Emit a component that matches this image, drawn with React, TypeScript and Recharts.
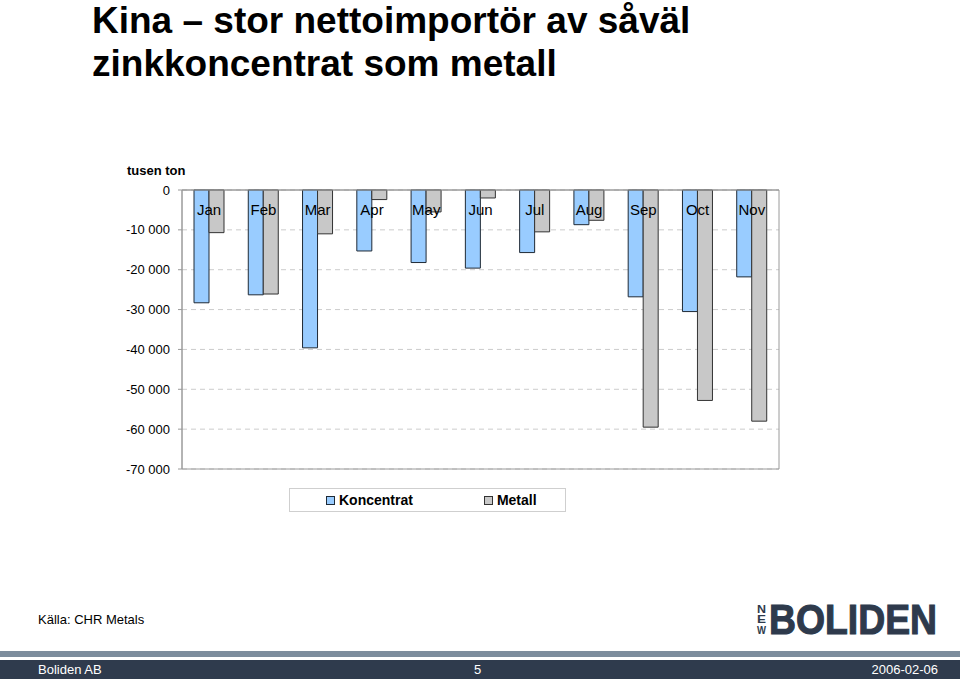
import { BarChart, Bar, XAxis, YAxis, CartesianGrid, Legend, ReferenceArea } from 'recharts';

const MONTHS = ['Jan', 'Feb', 'Mar', 'Apr', 'May', 'Jun', 'Jul', 'Aug', 'Sep', 'Oct', 'Nov'];
const KONCENTRAT = [-28300, -26300, -39600, -15300, -18200, -19600, -15700, -8700, -26800, -30500, -21800];
const METALL = [-10700, -26100, -11000, -2400, -5500, -2000, -10500, -7600, -59500, -52800, -58000];
const Y_TICKS = [0, -10000, -20000, -30000, -40000, -50000, -60000, -70000];

const SERIES = [
  { key: 'koncentrat', name: 'Koncentrat', fill: '#99CCFF', stroke: '#1f2a36' },
  { key: 'metall', name: 'Metall', fill: '#C8C8C8', stroke: '#333333' },
];

const FONT = '"Liberation Sans", Arial, sans-serif';

const data = MONTHS.map((m, i) => ({ month: m, koncentrat: KONCENTRAT[i], metall: METALL[i] }));

const fmt = (v: number) => {
  const s = Math.abs(v).toString().replace(/\B(?=(\d{3})+(?!\d))/g, ' ');
  return v < 0 ? `-${s}` : s;
};

function LegendBox() {
  return (
    <div
      style={{
        width: 275,
        height: 22,
        border: '1px solid #cfcfcf',
        display: 'flex',
        alignItems: 'center',
        fontFamily: FONT,
        fontSize: 14,
        fontWeight: 'bold',
        color: '#000',
        boxSizing: 'content-box',
      }}
    >
      {SERIES.map((s, i) => (
        <div key={s.key} style={{ display: 'flex', alignItems: 'center', marginLeft: i === 0 ? 36 : 71 }}>
          <span
            style={{
              display: 'inline-block',
              width: 7,
              height: 7,
              background: s.fill,
              border: `1px solid ${s.stroke}`,
              marginRight: 4,
            }}
          />
          <span>{s.name}</span>
        </div>
      ))}
    </div>
  );
}

function Logo() {
  return (
    <svg width={200} height={56} style={{ position: 'absolute', left: 750, top: 588 }}>
      {['N', 'E', 'W'].map((ch, i) => (
        <text
          key={ch}
          x={7}
          y={25 + i * 10.3}
          fontFamily={FONT}
          fontWeight="bold"
          fontSize={11}
          fill="#2E3A4C"
          textLength={9}
          lengthAdjust="spacingAndGlyphs"
        >
          {ch}
        </text>
      ))}
      <g transform="translate(19,46) scale(1,1.14)">
        <text
          x={0}
          y={0}
          fontFamily={FONT}
          fontWeight="bold"
          fontSize={37}
          fill="#2E3A4C"
          stroke="#2E3A4C"
          strokeWidth={1}
          textLength={168}
          lengthAdjust="spacingAndGlyphs"
        >
          BOLIDEN
        </text>
      </g>
    </svg>
  );
}

const titleLine = {
  position: 'absolute' as const,
  left: 92,
  fontSize: 37,
  fontWeight: 'bold' as const,
  lineHeight: '42px',
  color: '#000',
  whiteSpace: 'nowrap' as const,
};

export default function App() {
  return (
    <div style={{ position: 'absolute', left: 0, top: 0, width: 960, height: 679, background: '#fff', overflow: 'hidden', fontFamily: FONT }}>
      <div style={{ ...titleLine, top: 0 }}>Kina – stor nettoimportör av såväl</div>
      <div style={{ ...titleLine, top: 43 }}>zinkkoncentrat som metall</div>
      <div style={{ position: 'absolute', left: 127, top: 163, fontSize: 13, fontWeight: 'bold', lineHeight: '16px' }}>
        tusen ton
      </div>

      <BarChart
        width={960}
        height={679}
        data={data}
        margin={{ top: 190, right: 181, bottom: 210, left: 122 }}
        barGap={0}
        barSize={15}
        style={{ position: 'absolute', left: 0, top: 0 }}
      >
        <CartesianGrid horizontal vertical={false} stroke="#cccccc" strokeDasharray="5 4" />
        <ReferenceArea y1={-70000} y2={0} fill="none" stroke="#9a9a9a" strokeWidth={1} />
        <XAxis
          dataKey="month"
          orientation="top"
          mirror
          axisLine={{ stroke: '#9a9a9a' }}
          tickLine={false}
          tickSize={0}
          tickMargin={14}
          interval={0}
          tick={{ fill: '#000', fontSize: 15, fontFamily: FONT }}
        />
        <YAxis
          domain={[-70000, 0]}
          ticks={Y_TICKS}
          interval={0}
          width={60}
          tickFormatter={fmt}
          axisLine={{ stroke: '#9a9a9a' }}
          tickLine={{ stroke: '#9a9a9a' }}
          tickSize={4}
          tickMargin={8}
          tick={{ fill: '#000', fontSize: 13, fontFamily: FONT }}
        />
        {SERIES.map((s) => (
          <Bar
            key={s.key}
            dataKey={s.key}
            name={s.name}
            fill={s.fill}
            stroke={s.stroke}
            strokeWidth={1}
            isAnimationActive={false}
          />
        ))}
        <Legend
          layout="horizontal"
          verticalAlign="middle"
          wrapperStyle={{ position: 'absolute', left: 289, top: 488, width: 277, height: 24 }}
          content={() => <LegendBox />}
        />
      </BarChart>

      <div style={{ position: 'absolute', left: 38, top: 612, fontSize: 13, lineHeight: '16px', color: '#000' }}>
        Källa: CHR Metals
      </div>
      <Logo />

      <div style={{ position: 'absolute', left: 0, top: 651, width: 960, height: 6, background: '#7D8D9D' }} />
      <div
        style={{
          position: 'absolute',
          left: 0,
          top: 660,
          width: 960,
          height: 19,
          background: '#2F3B4D',
          color: '#fff',
          fontSize: 13,
          lineHeight: '19px',
        }}
      >
        <span style={{ position: 'absolute', left: 38 }}>Boliden AB</span>
        <span style={{ position: 'absolute', left: 474 }}>5</span>
        <span style={{ position: 'absolute', right: 22 }}>2006-02-06</span>
      </div>
    </div>
  );
}
